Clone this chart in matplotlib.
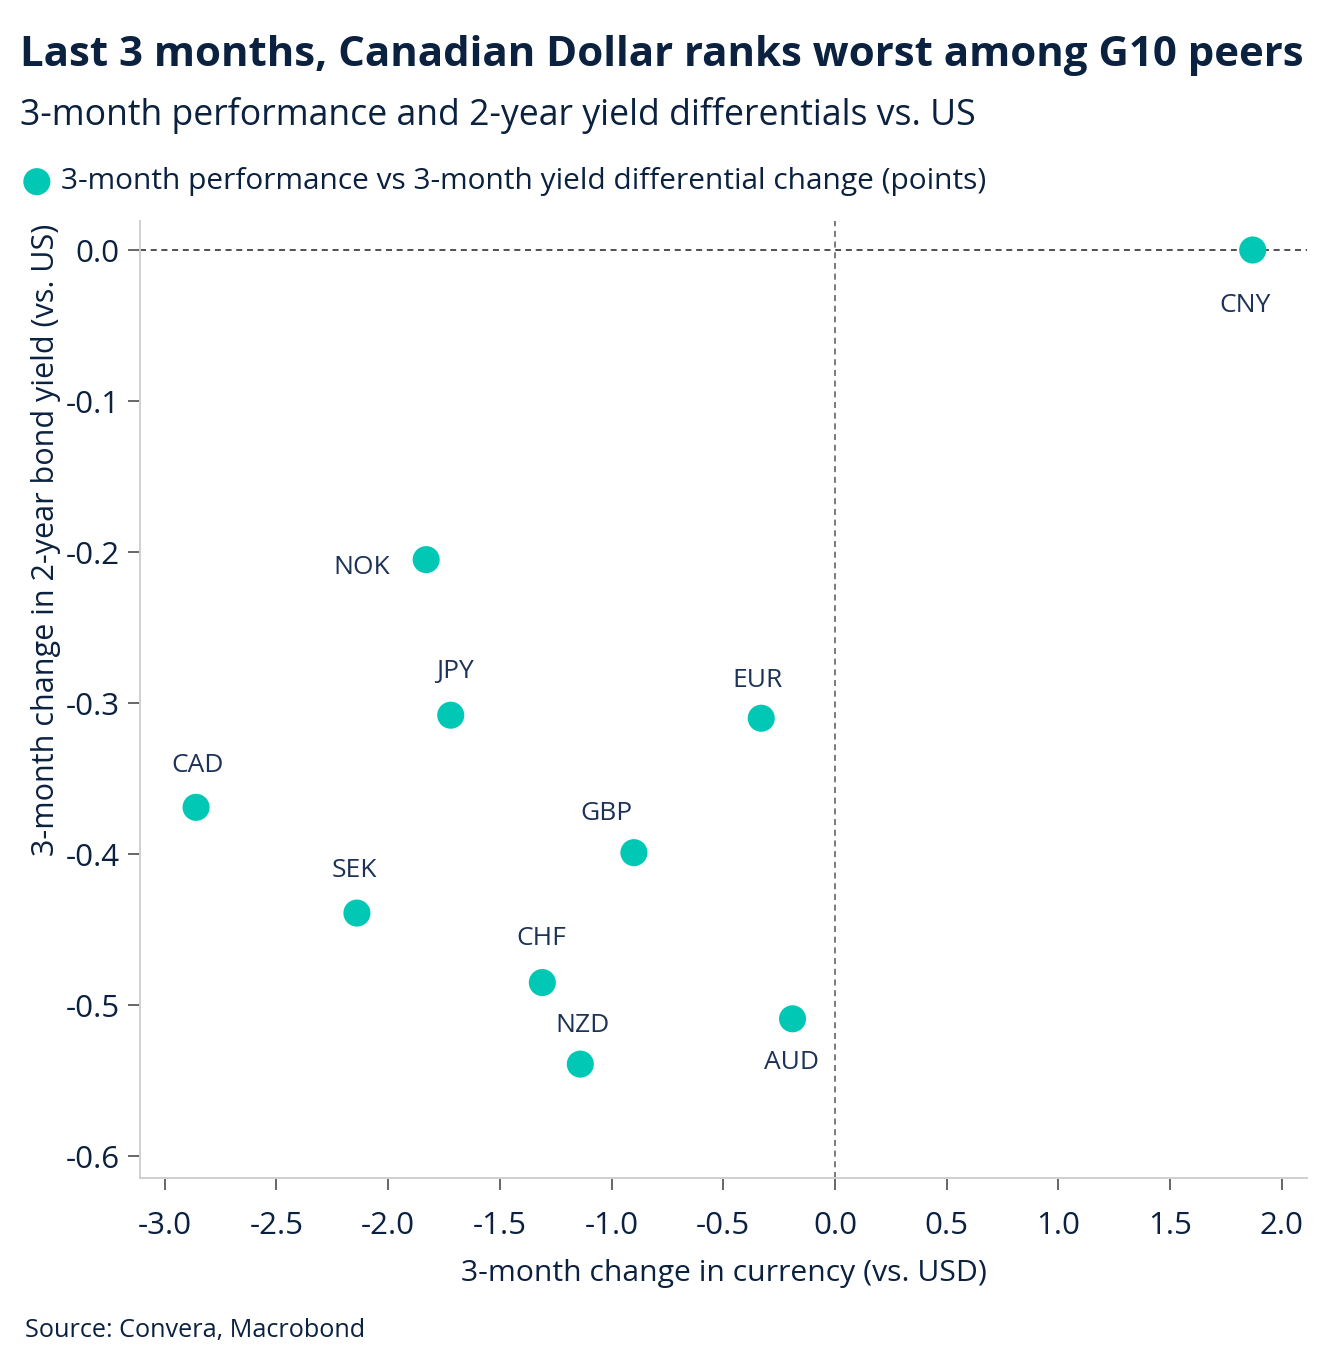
import matplotlib
matplotlib.use("Agg")
import matplotlib.pyplot as plt

plt.rcParams['font.family'] = ['Open Sans', 'DejaVu Sans']

# data
currencies = ['CNY', 'NOK', 'JPY', 'EUR', 'CAD', 'GBP', 'SEK', 'CHF', 'NZD', 'AUD']
fx_change = [1.87, -1.83, -1.72, -0.33, -2.86, -0.90, -2.14, -1.31, -1.14, -0.19]
yield_change = [0.0, -0.205, -0.308, -0.310, -0.369, -0.399, -0.439, -0.485, -0.539, -0.509]
x_ticks = [-3.0, -2.5, -2.0, -1.5, -1.0, -0.5, 0.0, 0.5, 1.0, 1.5, 2.0]
y_ticks = [0.0, -0.1, -0.2, -0.3, -0.4, -0.5, -0.6]

NAVY = '#0b2140'
LABEL = '#1c3258'
TEAL = '#00c8b4'

# label offsets in pixels (x right, y up)
label_offset = {
    'CNY': (-8, -56), 'NOK': (-64, -8), 'JPY': (4, 44), 'EUR': (-4, 38),
    'CAD': (1, 42), 'GBP': (-27, 39), 'SEK': (-3, 43), 'CHF': (-1, 44),
    'NZD': (2, 39), 'AUD': (-1, -44),
}

fig = plt.figure(figsize=(13.44, 13.72), dpi=100)
ax = fig.add_axes([140 / 1344, 1 - 1178 / 1372, 1167 / 1344, 957 / 1372])

ax.axhline(0, color='#505050', lw=1.4, ls=(0, (3.1, 2.4)), zorder=1)
ax.axvline(0, color='#7a7a7a', lw=1.4, ls=(0, (3.1, 2.4)), zorder=1)

pts = ax.scatter(fx_change, yield_change, s=380, color=TEAL, edgecolors='none', zorder=3)
for name, x, y in zip(currencies, fx_change, yield_change):
    dx, dy = label_offset[name]
    ax.annotate(name, (x, y), xytext=(dx, dy), textcoords='offset pixels',
                ha='center', va='center', fontsize=19, color=LABEL)

ax.set_xlim(-3.111, 2.113)
ax.set_ylim(-0.6144, 0.0192)
ax.set_xticks(x_ticks)
ax.set_xticklabels([f'{v:.1f}' for v in x_ticks])
ax.set_yticks(y_ticks)
ax.set_yticklabels([f'{v:.1f}' for v in y_ticks])

for side in ['top', 'right']:
    ax.spines[side].set_visible(False)
for side in ['left', 'bottom']:
    ax.spines[side].set_color('#d0d0d0')
    ax.spines[side].set_linewidth(1.4)
ax.tick_params(axis='both', colors='#666666', length=8.6, width=1.4,
               labelsize=22.5, labelcolor=NAVY)
ax.tick_params(axis='x', pad=15)
ax.tick_params(axis='y', pad=6)

ax.set_xlabel('3-month change in currency (vs. USD)', fontsize=21.7, color=NAVY)
ax.set_ylabel('3-month change in 2-year bond yield (vs. US)', fontsize=22, color=NAVY)
ax.xaxis.set_label_coords(0.5, -0.085)
ax.yaxis.set_label_coords(-0.068, 0.667)

title = fig.text(20 / 1344, 1 - 56 / 1372, 'Last 3 months, Canadian Dollar ranks worst among G10 peers',
                 fontsize=30, fontweight='bold', color=NAVY, va='center', ha='left')
fig.canvas.draw()
w = title.get_window_extent().width
title.set_fontsize(30 * 1287 / w)

fig.text(20 / 1344, 1 - 115 / 1372, '3-month performance and 2-year yield differentials vs. US',
         fontsize=25.7, color=NAVY, va='center', ha='left')
fig.legend([pts], ['3-month performance vs 3-month yield differential change (points)'],
           loc='center left', bbox_to_anchor=(4 / 1344, 1 - 182 / 1372), frameon=False,
           fontsize=21.5, handletextpad=0.0, handlelength=1.6, borderaxespad=0,
           borderpad=0.3, labelcolor=NAVY)
fig.text(25 / 1344, 1 - 1330 / 1372, 'Source: Convera, Macrobond',
         fontsize=18.2, color=NAVY, va='center', ha='left')

fig.savefig('out.png', dpi=100, facecolor='white')
